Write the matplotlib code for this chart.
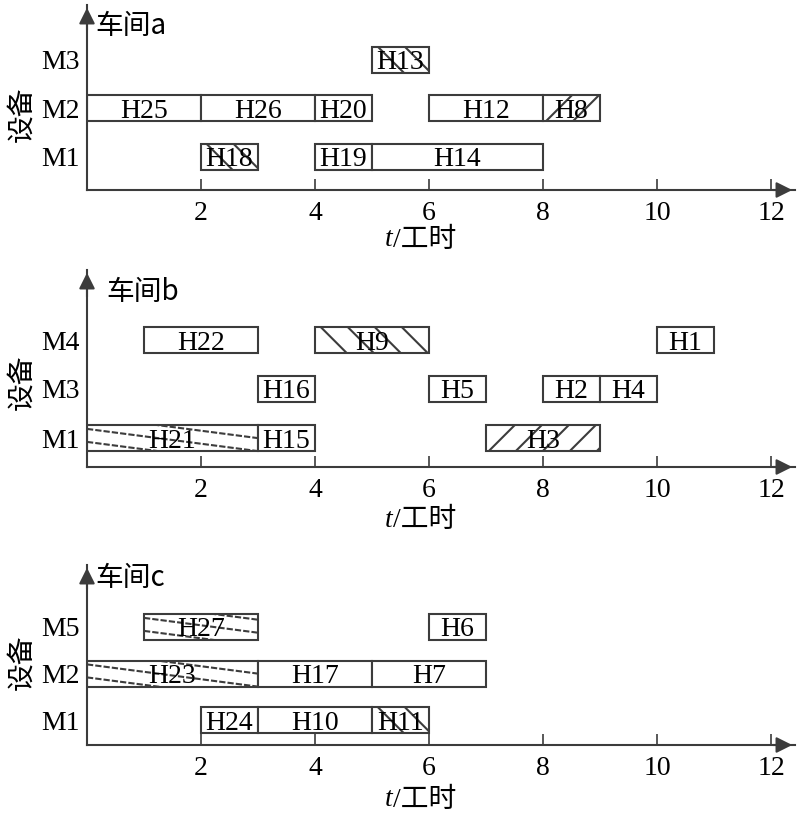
import numpy as np
import matplotlib
matplotlib.use('Agg')
import matplotlib.pyplot as plt
from matplotlib.patches import Rectangle

plt.rcParams['font.family'] = ['Liberation Serif', 'Noto Sans CJK SC', 'DejaVu Sans']
CJK = ['Noto Sans CJK SC', 'Liberation Serif']

# ---- data ----
# workshop a
a_rows = ['M1', 'M2', 'M3']
a_jobs = ['H25', 'H26', 'H20', 'H12', 'H8', 'H13', 'H18', 'H19', 'H14']
a_mach = ['M2', 'M2', 'M2', 'M2', 'M2', 'M3', 'M1', 'M1', 'M1']
a_start = [0, 2, 4, 6, 8, 5, 2, 4, 5]
a_end = [2, 4, 5, 8, 9, 6, 3, 5, 8]
a_hatch = ['', '', '', '', '/', '\\', '\\', '', '']

# workshop b
b_rows = ['M1', 'M3', 'M4']
b_jobs = ['H22', 'H9', 'H1', 'H16', 'H5', 'H2', 'H4', 'H21', 'H15', 'H3']
b_mach = ['M4', 'M4', 'M4', 'M3', 'M3', 'M3', 'M3', 'M1', 'M1', 'M1']
b_start = [1, 4, 10, 3, 6, 8, 9, 0, 3, 7]
b_end = [3, 6, 11, 4, 7, 9, 10, 3, 4, 9]
b_hatch = ['', '\\', '', '', '', '', '', '-', '', '/']

# workshop c
c_rows = ['M1', 'M2', 'M5']
c_jobs = ['H27', 'H6', 'H23', 'H17', 'H7', 'H24', 'H10', 'H11']
c_mach = ['M5', 'M5', 'M2', 'M2', 'M2', 'M1', 'M1', 'M1']
c_start = [1, 6, 0, 3, 5, 2, 3, 5]
c_end = [3, 7, 3, 5, 7, 3, 5, 6]
c_hatch = ['-', '', '-', '', '', '', '', '\\']

xticks = [2, 4, 6, 8, 10, 12]

EDGE = '#3c3c3c'
FS = 20
fig = plt.figure(figsize=(8, 8.23), dpi=100)

W, H = 800, 823
x0px, x1px = 87, 795
sx = 57.0  # px per hour

panels = [
    # rows, jobs, mach, start, end, hatch, axis y px, top px, row spacing px, first row px above axis, title, title pos, label pos
    (a_rows, a_jobs, a_mach, a_start, a_end, a_hatch, 190, 5, 48.7, 33, '车间a', (0.012, 0.885), (0.41, -0.27)),
    (b_rows, b_jobs, b_mach, b_start, b_end, b_hatch, 467, 270, 49.0, 29, '车间b', (0.028, 0.89), (0.43, -0.27)),
    (c_rows, c_jobs, c_mach, c_start, c_end, c_hatch, 745, 565, 46.5, 25, '车间c', (0.012, 0.93), (0.46, -0.305)),
]


def hatch_lines(ax, rect, xs, xe, yb, yt, kind, sy):
    bh = (yt - yb) * sy  # box height px
    segs = []
    style = '-'
    if kind == '\\':
        step = 27 / sx
        k = xs + 0.1
        while k < xe:
            segs.append(([k, k + bh / sx], [yt, yb]))
            k += step
    elif kind == '/':
        step = 27 / sx
        k = xs + 0.05
        while k < xe:
            segs.append(([k, k + bh / sx], [yb, yt]))
            k += step
    elif kind == '-':
        style = (0, (3, 1))
        slope = 0.13 * sx / sy  # data units y per x
        span = xe - xs
        for off in np.arange(-2, 3) * (yt - yb) / 2 + (yt - yb) * 0.15:
            segs.append(([xs, xe], [yt - off, yt - off - slope * span]))
    for xx, yy in segs:
        ln, = ax.plot(xx, yy, color=EDGE, lw=1.5, linestyle=style, zorder=3)
        ln.set_clip_path(rect)


for rows, jobs, mach, start, end, hatch, ypx, toppx, sp, first, title, tpos, ylpos in panels:
    bottom = (H - ypx) / H
    height = (ypx - toppx) / H
    ax = fig.add_axes([x0px / W, bottom, (x1px - x0px) / W, height])
    ylo = 1 - first / sp
    yhi = ylo + (ypx - toppx) / sp
    ax.set_xlim(0, (x1px - x0px) / sx)
    ax.set_ylim(ylo, yhi)
    bar_h = 26 / sp
    for j, m, s, e, h in zip(jobs, mach, start, end, hatch):
        yc = rows.index(m) + 1
        rect = Rectangle((s, yc - bar_h / 2), e - s, bar_h, facecolor='white',
                         edgecolor=EDGE, lw=1.5, zorder=2)
        ax.add_patch(rect)
        if h:
            hatch_lines(ax, rect, s, e, yc - bar_h / 2, yc + bar_h / 2, h, sp)
        ax.text((s + e) / 2, yc, j, ha='center', va='center_baseline', fontsize=FS,
                family='Liberation Serif', zorder=4)
    for side in ['top', 'right']:
        ax.spines[side].set_visible(False)
    for side in ['left', 'bottom']:
        ax.spines[side].set_color(EDGE)
        ax.spines[side].set_linewidth(1.5)
    ax.set_xticks(xticks)
    ax.set_xticklabels([str(v) for v in xticks])
    ax.set_yticks(range(1, len(rows) + 1))
    ax.set_yticklabels(rows)
    ax.tick_params(axis='x', direction='in', length=8, width=1.2, color=EDGE,
                   pad=8, labelsize=FS)
    ax.tick_params(axis='y', length=0, pad=5, labelsize=FS)
    # arrow heads
    ax.annotate('', xy=(1.0, 0), xytext=(0.965, 0), xycoords='axes fraction',
                arrowprops=dict(arrowstyle='-|>', mutation_scale=24, color=EDGE, lw=1.5))
    ax.annotate('', xy=(0, 1.0), xytext=(0, 0.85), xycoords='axes fraction',
                arrowprops=dict(arrowstyle='-|>', mutation_scale=24, color=EDGE, lw=1.5))
    ax.text(tpos[0], tpos[1], title, transform=ax.transAxes, fontsize=FS,
            family=CJK, ha='left', va='center')
    ax.text(-0.092, ylpos[0], '设备', transform=ax.transAxes, fontsize=FS,
            family=CJK, rotation=90, ha='center', va='center')
    ax.text(0.432, ylpos[1], 't', transform=ax.transAxes, fontsize=FS,
            family='Liberation Serif', style='italic', ha='right', va='center')
    ax.text(0.432, ylpos[1], '/工时', transform=ax.transAxes, fontsize=FS,
            family=['Liberation Serif', 'Noto Sans CJK SC'], ha='left', va='center')

fig.savefig('out.png', dpi=100)
